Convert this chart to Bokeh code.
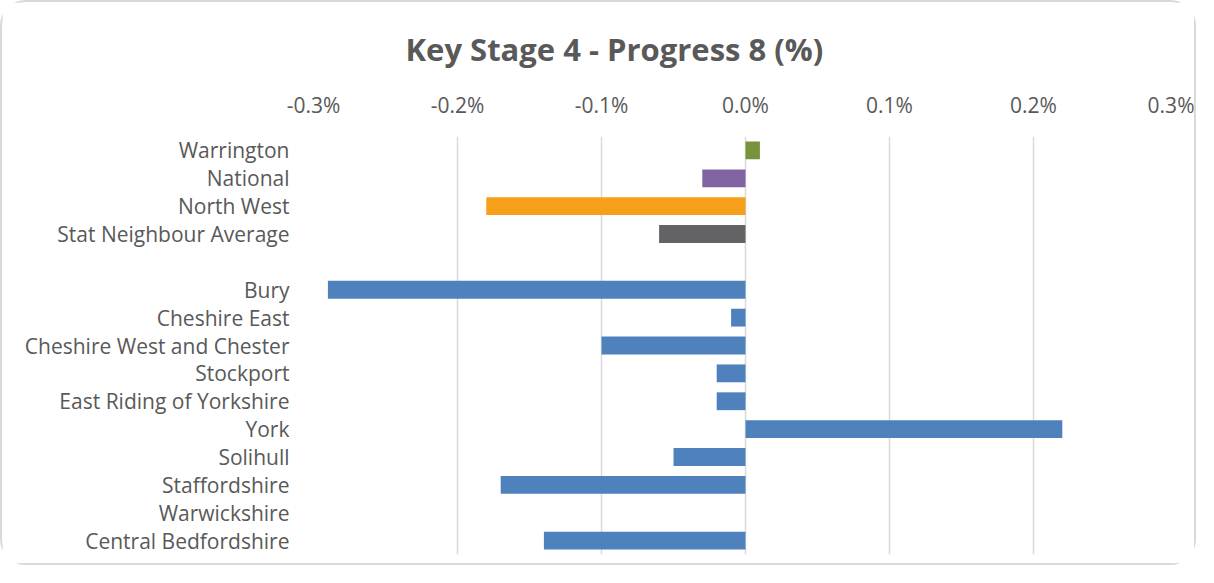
from bokeh.plotting import figure
from bokeh.models import ColumnDataSource, FactorRange, FixedTicker, CustomJSTickFormatter
from bokeh.embed import file_html
from bokeh.resources import INLINE

categories = ["Warrington", "National", "North West", "Stat Neighbour Average", " ",
              "Bury", "Cheshire East", "Cheshire West and Chester", "Stockport",
              "East Riding of Yorkshire", "York", "Solihull", "Staffordshire",
              "Warwickshire", "Central Bedfordshire"]
values = [0.01, -0.03, -0.18, -0.06, 0.0,
          -0.29, -0.01, -0.10, -0.02,
          -0.02, 0.22, -0.05, -0.17,
          0.0, -0.14]
colors = ["#77933C", "#8064A2", "#F79F1B", "#636366", "#FFFFFF",
          "#4F81BD", "#4F81BD", "#4F81BD", "#4F81BD",
          "#4F81BD", "#4F81BD", "#4F81BD", "#4F81BD",
          "#4F81BD", "#4F81BD"]
tick_values = [-0.3, -0.2, -0.1, 0.0, 0.1, 0.2, 0.3]

src = ColumnDataSource(dict(cat=categories, val=values, col=colors))

p = figure(width=1196, height=565, output_backend="svg", toolbar_location=None,
           y_range=FactorRange(factors=list(reversed(categories)), range_padding=0),
           x_range=(-0.3, 0.3), x_axis_location="above",
           title="Key Stage 4 - Progress 8 (%)",
           min_border_left=311, min_border_right=21, min_border_top=134, min_border_bottom=13)
p.styles = {"border": "2px solid #d9d9d9", "border-radius": "26px"}

p.hbar(y="cat", right="val", left=0, height=0.64, color="col", source=src, line_width=0)

p.title.align = "left"
p.title.offset = 92
p.title.standoff = 35
p.title.text_font = "Open Sans"
p.title.text_font_size = "31px"
p.title.text_color = "#595959"
p.title.text_font_style = "bold"

p.outline_line_color = None
p.ygrid.grid_line_color = None
p.xgrid.grid_line_color = "#d9d9d9"
p.xgrid.grid_line_width = 1.5

xa = p.xaxis[0]
xa.ticker = FixedTicker(ticks=tick_values)
xa.formatter = CustomJSTickFormatter(code="return tick.toFixed(1) + '%';")
xa.axis_line_color = None
xa.major_tick_line_color = None
xa.minor_tick_line_color = None
xa.major_label_text_font = "Open Sans"
xa.major_label_text_font_size = "21px"
xa.major_label_text_color = "#595959"
xa.major_label_standoff = 12

ya = p.yaxis[0]
ya.axis_line_color = None
ya.major_tick_line_color = None
ya.minor_tick_line_color = None
ya.major_label_text_font = "Open Sans"
ya.major_label_text_font_size = "21px"
ya.major_label_text_color = "#595959"
ya.major_label_standoff = 18

open("out.html", "w").write(file_html(p, INLINE))
